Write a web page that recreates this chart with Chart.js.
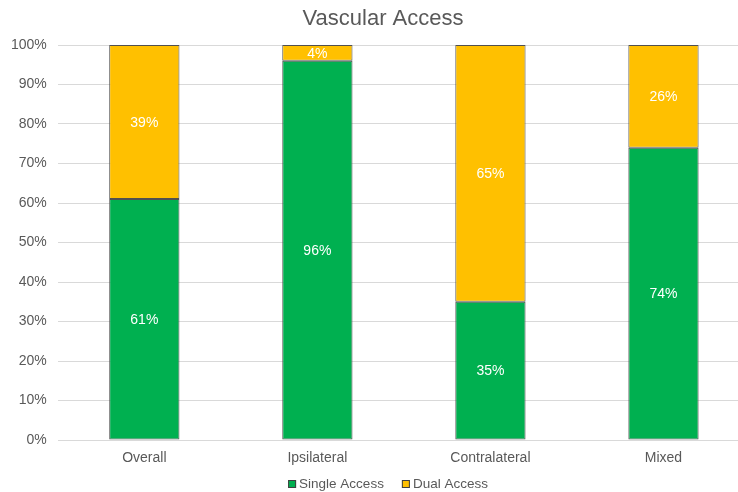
<!DOCTYPE html>
<html>
<head>
<meta charset="utf-8">
<script src="https://cdn.jsdelivr.net/npm/chart.js@4"></script>
<style>
  html, body { margin: 0; padding: 0; background: #fff; overflow: hidden; }
  #wrap { position: relative; width: 766px; height: 492px; }
</style>
</head>
<body>
<div id="wrap"><canvas id="chart"></canvas></div>
<script>
// Share of patients by access strategy, per group (percent)
const categories = ['Overall', 'Ipsilateral', 'Contralateral', 'Mixed'];
const singleAccess = [61, 96, 35, 74];
const dualAccess = [39, 4, 65, 26];
const seriesNames = ['Single Access', 'Dual Access'];
const chartTitle = 'Vascular Access';

const FONT = '"Liberation Sans", Arial, sans-serif';
const GREY_TEXT = '#595959';
const BAR_EDGE = '#505050';

// Writes each segment's value in the middle of its bar
const segmentLabels = {
  id: 'segmentLabels',
  afterDatasetsDraw(chart) {
    const ctx = chart.ctx;
    ctx.save();
    ctx.font = '14px ' + FONT;
    ctx.fillStyle = '#ffffff';
    ctx.textAlign = 'center';
    ctx.textBaseline = 'middle';
    chart.data.datasets.forEach((ds, i) => {
      const meta = chart.getDatasetMeta(i);
      meta.data.forEach((bar, j) => {
        const v = ds.data[j];
        const mid = (bar.y + bar.base) / 2;
        ctx.fillText(v + '%', bar.x, mid + 1);
      });
    });
    ctx.restore();
  }
};

// Title across the top and a compact square-swatch legend along the bottom
const headerAndKey = {
  id: 'headerAndKey',
  afterDraw(chart) {
    const ctx = chart.ctx;
    const cx = chart.width / 2;
    ctx.save();

    ctx.font = '22px ' + FONT;
    ctx.fillStyle = GREY_TEXT;
    ctx.textAlign = 'center';
    ctx.textBaseline = 'alphabetic';
    ctx.fillText(chartTitle, cx, 25);

    ctx.font = '13.5px ' + FONT;
    ctx.textAlign = 'left';
    const box = 8, textGap = 3, itemGap = 18;
    const items = chart.data.datasets.map(ds => ({
      text: ds.label,
      color: ds.backgroundColor,
      w: box + textGap + ctx.measureText(ds.label).width
    }));
    const total = items.reduce((s, it) => s + it.w, 0) + itemGap * (items.length - 1);
    let x = cx + 5 - total / 2;
    const baseline = 488;
    items.forEach(it => {
      ctx.fillStyle = it.color;
      ctx.fillRect(x, baseline - box, box, box);
      ctx.strokeStyle = '#404040';
      ctx.lineWidth = 1;
      ctx.strokeRect(x + 0.5, baseline - box + 0.5, box - 1, box - 1);
      ctx.fillStyle = GREY_TEXT;
      ctx.fillText(it.text, x + box + textGap, baseline);
      x += it.w + itemGap;
    });
    ctx.restore();
  }
};

new Chart(document.getElementById('chart'), {
  type: 'bar',
  data: {
    labels: categories,
    datasets: [
      {
        label: seriesNames[0],
        data: singleAccess,
        backgroundColor: '#00B050',
        borderColor: BAR_EDGE,
        borderWidth: 1,
        borderSkipped: false
      },
      {
        label: seriesNames[1],
        data: dualAccess,
        backgroundColor: '#FFC000',
        borderColor: BAR_EDGE,
        borderWidth: 1,
        borderSkipped: false
      }
    ]
  },
  options: {
    responsive: true,
    maintainAspectRatio: false,
    animation: false,
    devicePixelRatio: 1,
    categoryPercentage: 0.406,
    barPercentage: 1,
    layout: { padding: { left: 0, right: 16, top: 45, bottom: 25 } },
    plugins: {
      title: { display: false },
      legend: { display: false },
      tooltip: { enabled: false }
    },
    scales: {
      x: {
        stacked: true,
        grid: { display: false, drawTicks: false },
        border: { display: false },
        ticks: {
          color: GREY_TEXT,
          font: { family: FONT, size: 14 },
          padding: 10
        },
        afterFit: s => { s.height = 27; }
      },
      y: {
        stacked: true,
        min: 0,
        max: 100,
        grid: { color: '#d9d9d9', lineWidth: 1, drawTicks: false },
        border: { display: false },
        ticks: {
          stepSize: 10,
          color: GREY_TEXT,
          font: { family: FONT, size: 14 },
          padding: 11,
          callback: v => v + '%'
        }
      }
    }
  },
  plugins: [segmentLabels, headerAndKey]
});
</script>
</body>
</html>
